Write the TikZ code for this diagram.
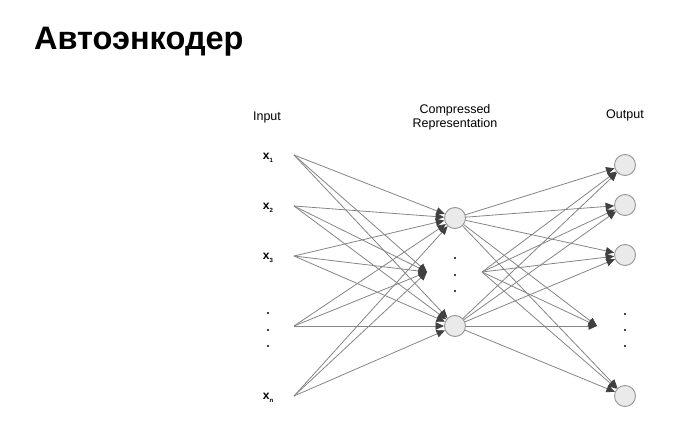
\documentclass[tikz,border=0pt]{standalone}
\usepackage{fontspec}
\setmainfont{Liberation Sans}
\usetikzlibrary{arrows.meta}
\definecolor{lineG}{HTML}{858585}
\definecolor{tipG}{HTML}{404040}
\definecolor{fillG}{HTML}{EAEAEA}
\definecolor{rimG}{HTML}{959595}

\newcommand{\insub}[1]{x\raisebox{-3.5pt}{\fontsize{6}{6}\selectfont #1}}

\begin{document}
\begin{tikzpicture}
  [x=1pt,y=-1pt,
   unitN/.style={circle,draw=rimG,fill=fillG,line width=0.9pt,minimum size=21pt,inner sep=0pt},
   headN/.style={font=\fontsize{12.5}{14}\selectfont,align=center},
   inN/.style={font=\fontsize{12}{13}\selectfont\bfseries},
   dotN/.style={circle,fill=black,inner sep=0pt,minimum size=2.2pt},
   conn/.style={draw=lineG,line width=0.8pt,-{Triangle[length=8.5pt,width=7.5pt,color=tipG]}}]

  \useasboundingbox (0,0) rectangle (693,438);

  \node[anchor=base west,inner sep=0pt,font=\fontsize{32.5}{38}\selectfont\bfseries] (title) at (34,50) {Автоэнкодер};

  % column heads
  \node[headN] (inHead)  at (267,117) {Input};
  \node[headN] (midHead) at (455,117) {Compressed\\Representation};
  \node[headN] (outHead) at (625,115) {Output};

  % input column
  \node[inN] (x1) at (268,158) {\insub{1}};
  \node[inN] (x2) at (268,208) {\insub{2}};
  \node[inN] (x3) at (268,258) {\insub{3}};
  \node[inN] (xn) at (268,398) {\insub{n}};
  \node[dotN] (id1) at (268,313) {};
  \node[dotN] (id2) at (268,330) {};
  \node[dotN] (id3) at (268,346) {};

  \coordinate (i1) at (294,155);
  \coordinate (i2) at (294,206);
  \coordinate (i3) at (294,256);
  \coordinate (i4) at (294,326);
  \coordinate (i5) at (294,396);

  % compressed column
  \node[unitN] (h1) at (455,218) {};
  \node[unitN] (h3) at (455,326) {};
  \coordinate (h2l) at (427,272);
  \coordinate (h2r) at (482,272);
  \node[dotN] (hd1) at (455,258) {};
  \node[dotN] (hd2) at (455,275) {};
  \node[dotN] (hd3) at (455,291) {};

  % output column
  \node[unitN] (o1) at (625,165) {};
  \node[unitN] (o2) at (625,205) {};
  \node[unitN] (o3) at (625,255) {};
  \node[unitN] (o5) at (625,396) {};
  \coordinate (o4) at (597,326);
  \node[dotN] (od1) at (625,314) {};
  \node[dotN] (od2) at (625,330) {};
  \node[dotN] (od3) at (625,346) {};

  % encoder
  \draw[conn] (i1) -- (h1);
  \draw[conn] (i1) -- (h2l);
  \draw[conn] (i1) -- (h3);
  \draw[conn] (i2) -- (h1);
  \draw[conn] (i2) -- (h2l);
  \draw[conn] (i2) -- (h3);
  \draw[conn] (i3) -- (h1);
  \draw[conn] (i3) -- (h2l);
  \draw[conn] (i3) -- (h3);
  \draw[conn] (i4) -- (h1);
  \draw[conn] (i4) -- (h2l);
  \draw[conn] (i4) -- (h3);
  \draw[conn] (i5) -- (h1);
  \draw[conn] (i5) -- (h2l);
  \draw[conn] (i5) -- (h3);

  % decoder
  \draw[conn] (h1) -- (o1);
  \draw[conn] (h1) -- (o2);
  \draw[conn] (h1) -- (o3);
  \draw[conn] (h1) -- (o4);
  \draw[conn] (h1) -- (o5);
  \draw[conn] (h2r) -- (o1);
  \draw[conn] (h2r) -- (o2);
  \draw[conn] (h2r) -- (o3);
  \draw[conn] (h2r) -- (o4);
  \draw[conn] (h2r) -- (o5);
  \draw[conn] (h3) -- (o1);
  \draw[conn] (h3) -- (o2);
  \draw[conn] (h3) -- (o3);
  \draw[conn] (h3) -- (o4);
  \draw[conn] (h3) -- (o5);
\end{tikzpicture}
\end{document}
